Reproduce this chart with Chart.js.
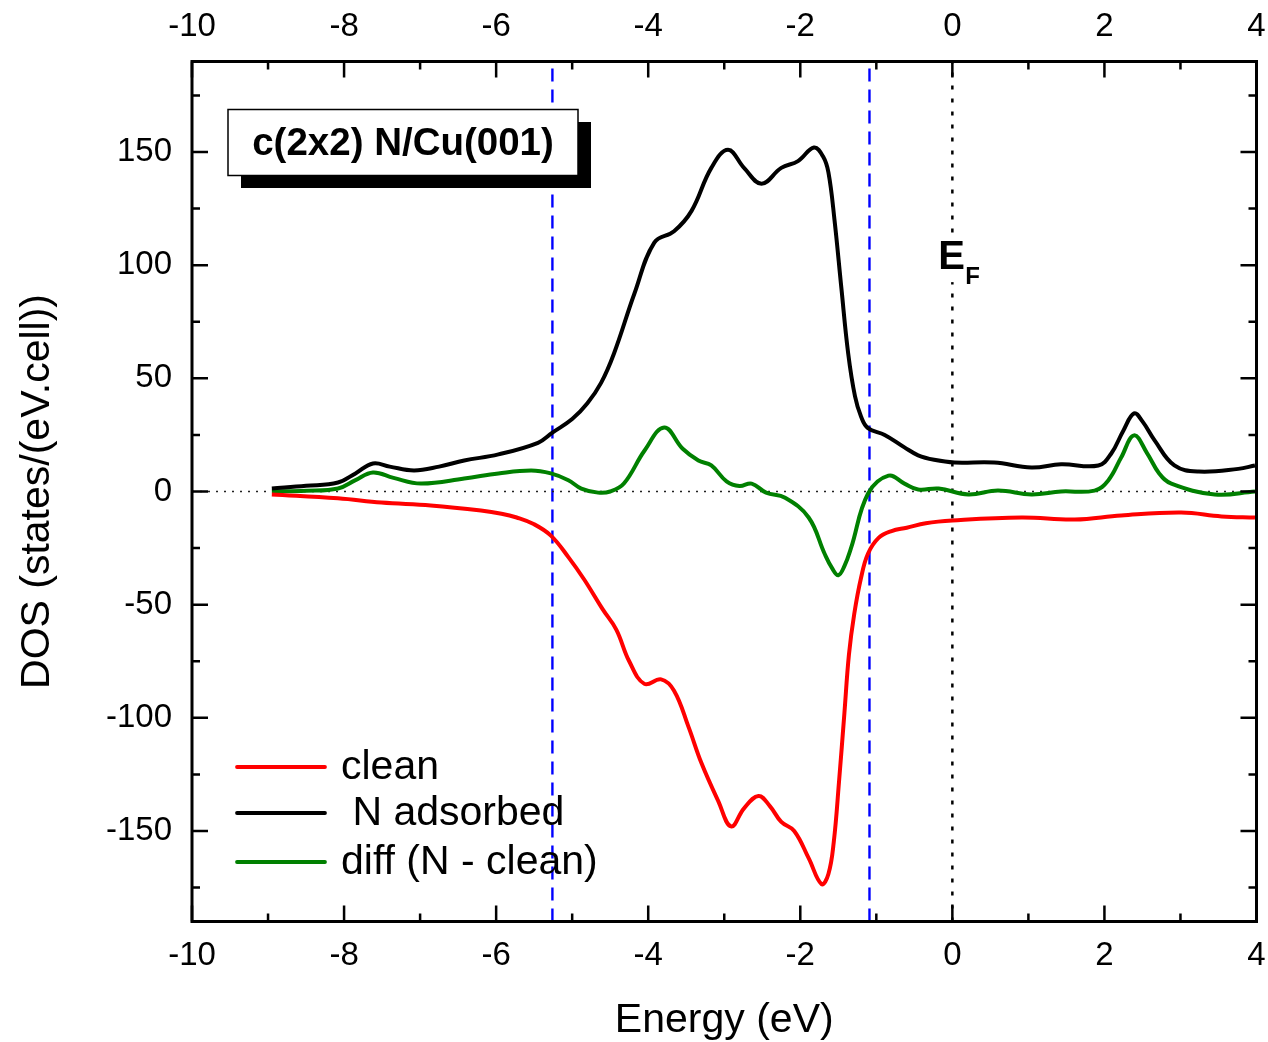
<!DOCTYPE html>
<html>
<head>
<meta charset="utf-8">
<script src="https://cdn.jsdelivr.net/npm/chart.js@4"></script>
<style>
  body { margin: 0; background: #fff; }
  #wrap { width: 1268px; height: 1042px; }
</style>
</head>
<body>
<div id="wrap"><canvas id="dos"></canvas></div>
<script>
// --- dados ---
const cleanE = [-8.95, -8.08, -7.51, -6.86, -6.2, -5.93, -5.73, -5.5, -5.28, -5.05, -4.84, -4.6, -4.42, -4.25, -4.05, -3.83, -3.66, -3.47, -3.3, -3.08, -2.91, -2.74, -2.55, -2.4, -2.25, -2.08, -1.89, -1.72, -1.63, -1.56, -1.49, -1.42, -1.36, -1.29, -1.2, -1.11, -0.97, -0.8, -0.6, -0.35, 0, 0.91, 1.61, 2.22, 3.01, 3.54, 3.98];
const cleanDOS = [-1.3, -3, -4.9, -6.2, -8.4, -9.8, -11.5, -14.5, -19.5, -29, -39, -52, -61, -75, -85, -83, -88, -104, -120, -136.7, -148, -140, -134.5, -139, -146, -150, -162, -173.5, -169, -155, -128, -98, -72, -54, -38, -27.5, -20.5, -17.5, -16, -14, -12.8, -11.5, -12.4, -10.6, -9.3, -11, -11.5];

const nadsE = [-8.95, -8.5, -8.08, -7.85, -7.62, -7.4, -7.08, -6.75, -6.42, -5.97, -5.45, -5.26, -5.0, -4.8, -4.62, -4.45, -4.18, -3.92, -3.66, -3.43, -3.17, -2.95, -2.74, -2.51, -2.25, -2.03, -1.82, -1.7, -1.63, -1.55, -1.46, -1.37, -1.28, -1.2, -1.11, -0.89, -0.63, -0.45, -0.24, 0.03, 0.55, 1.04, 1.43, 1.92, 2.09, 2.25, 2.39, 2.5, 2.66, 2.92, 3.24, 3.76, 3.98];
const nadsDOS = [1.3, 2.5, 4, 8, 12.4, 11, 9.3, 11, 13.7, 16.4, 21.5, 26, 32, 39, 48, 61, 87.6, 110, 115, 124, 143, 151, 143, 136, 143, 146, 152, 148, 141, 120, 90, 61, 42, 33, 28, 25, 19.5, 16, 14, 12.8, 12.8, 10.6, 12, 11.5, 16.8, 27, 34.5, 31, 22.6, 11.5, 8.8, 10, 11.5];

const diffE = [-8.95, -8.5, -8.08, -7.85, -7.62, -7.35, -6.99, -6.42, -5.97, -5.54, -5.28, -5.05, -4.88, -4.66, -4.5, -4.32, -4.05, -3.79, -3.55, -3.34, -3.17, -2.97, -2.8, -2.64, -2.45, -2.2, -1.89, -1.68, -1.58, -1.5, -1.42, -1.33, -1.11, -0.84, -0.63, -0.45, -0.18, 0.21, 0.6, 1.04, 1.43, 1.87, 2.05, 2.22, 2.39, 2.56, 2.72, 2.88, 3.45, 3.98];
const diffDOS = [0, 0.3, 1.3, 5, 8.4, 6, 3.5, 5.7, 8, 9.3, 8, 5, 1.3, -0.5, 0, 3.5, 18, 28.3, 19, 13.7, 11.5, 4.5, 2.4, 3.5, -0.5, -2.8, -11.5, -27.5, -34, -37, -33, -24.7, -1, 7, 3.5, 0.9, 1.3, -1.3, 0.4, -1.3, 0, 0.4, 4.9, 15, 24.8, 17, 8, 3.5, -1.3, 0];

const faixaE = [-5.26, -1.09];   // linhas azuis tracejadas
const xTicks = [-10, -8, -6, -4, -2, 0, 2, 4];
const yTicks = [-150, -100, -50, 0, 50, 100, 150];
const nomes = ['clean', ' N adsorbed', 'diff (N - clean)'];
const cores = ['#ff0000', '#000000', '#008000'];

const FONTE = "'Liberation Sans', Arial, sans-serif";

function pontos(xs, ys) {
    return xs.map((x, i) => ({ x: x, y: ys[i] }));
}

// linhas de referência
const refSets = [
    { data: [{ x: -10, y: 0 }, { x: 4, y: 0 }], borderColor: '#222', borderWidth: 1.5, borderDash: [2, 6] },
    { data: [{ x: 0, y: -190 }, { x: 0, y: 190 }], borderColor: '#000', borderWidth: 2.5, borderDash: [4, 9] },
    { data: [{ x: faixaE[0], y: -190 }, { x: faixaE[0], y: 190 }], borderColor: '#0000ff', borderWidth: 2.4, borderDash: [13, 8] },
    { data: [{ x: faixaE[1], y: -190 }, { x: faixaE[1], y: 190 }], borderColor: '#0000ff', borderWidth: 2.4, borderDash: [13, 8] }
].map(d => Object.assign(d, { pointRadius: 0, fill: false, tension: 0, order: 5 }));

const series = [pontos(cleanE, cleanDOS), pontos(nadsE, nadsDOS), pontos(diffE, diffDOS)].map((d, i) => ({
    label: nomes[i],
    data: d,
    borderColor: cores[i],
    borderWidth: 4,
    pointRadius: 0,
    fill: false,
    tension: 0.4,
    borderJoinStyle: 'round',
    order: 1
}));

// ticks para dentro, moldura, caixa do título, E_F e legenda
const enfeites = {
    id: 'enfeites',
    afterDatasetsDraw(chart) {
        const { ctx, chartArea: a, scales } = chart;
        const sx = scales.x, sy = scales.y;
        ctx.save();
        ctx.strokeStyle = '#000';
        ctx.lineWidth = 2.5;
        ctx.beginPath();
        const maior = 16, menor = 8;
        for (let v = -10; v <= 4; v += 1) {
            const px = sx.getPixelForValue(v);
            const len = (v % 2 === 0) ? maior : menor;
            ctx.moveTo(px, a.bottom); ctx.lineTo(px, a.bottom - len);
            ctx.moveTo(px, a.top); ctx.lineTo(px, a.top + len);
        }
        for (let v = -175; v <= 175; v += 25) {
            const py = sy.getPixelForValue(v);
            const len = (v % 50 === 0) ? maior : menor;
            ctx.moveTo(a.left, py); ctx.lineTo(a.left + len, py);
            ctx.moveTo(a.right, py); ctx.lineTo(a.right - len, py);
        }
        ctx.stroke();
        ctx.lineWidth = 3;
        ctx.strokeRect(a.left, a.top, a.right - a.left, a.bottom - a.top);

        // caixa do título com sombra
        const bx = a.left + 36, by = a.top + 48, bw = 350, bh = 66;
        ctx.fillStyle = '#000';
        ctx.fillRect(bx + 13, by + 12.5, bw, bh);
        ctx.fillStyle = '#fff';
        ctx.fillRect(bx, by, bw, bh);
        ctx.lineWidth = 1.5;
        ctx.strokeRect(bx, by, bw, bh);
        ctx.fillStyle = '#000';
        ctx.font = 'bold 38.5px ' + FONTE;
        ctx.textAlign = 'center';
        ctx.textBaseline = 'middle';
        ctx.fillText('c(2x2) N/Cu(001)', bx + bw / 2, by + 35);

        // rótulo E_F
        const ex = sx.getPixelForValue(0), ey = sy.getPixelForValue(104);
        ctx.fillStyle = '#fff';
        ctx.fillRect(ex - 14, ey - 22, 28, 48);
        ctx.fillStyle = '#000';
        ctx.textAlign = 'left';
        ctx.font = 'bold 40px ' + FONTE;
        ctx.fillText('E', ex - 14, ey + 2);
        ctx.font = 'bold 24px ' + FONTE;
        ctx.fillText('F', ex + 13, ey + 21);

        // legenda
        const lx = a.left + 45;
        const ly = [767, 813, 862];
        ctx.font = '41px ' + FONTE;
        series.forEach((s, i) => {
            ctx.strokeStyle = s.borderColor;
            ctx.lineWidth = 3.8;
            ctx.lineCap = 'round';
            ctx.beginPath();
            ctx.moveTo(lx, ly[i]); ctx.lineTo(lx + 88, ly[i]);
            ctx.stroke();
            ctx.fillStyle = '#000';
            ctx.fillText(s.label, lx + 104, ly[i] + 1);
        });
        ctx.restore();
    }
};

const fonteTick = { family: FONTE, size: 33 };
function semPadH(s, h) {
    s.height = h;
    s.paddingLeft = 0;
    s.paddingRight = 0;
}

new Chart(document.getElementById('dos'), {
    type: 'line',
    data: { datasets: series.concat(refSets) },
    options: {
        responsive: true,
        maintainAspectRatio: false,
        animation: false,
        layout: { padding: { right: 11.5 } },
        plugins: { legend: { display: false }, tooltip: { enabled: false } },
        scales: {
            x: {
                type: 'linear', position: 'bottom', min: -10, max: 4,
                afterBuildTicks: s => { s.ticks = xTicks.map(v => ({ value: v })); },
                afterFit: s => semPadH(s, 120.5),
                grid: { display: false, drawTicks: false },
                border: { display: false },
                ticks: { color: '#000', font: fonteTick, padding: 15, maxRotation: 0 },
                title: { display: true, text: 'Energy (eV)', color: '#000', font: { family: FONTE, size: 41 }, padding: { top: 0, bottom: -3 } }
            },
            x2: {
                type: 'linear', position: 'top', min: -10, max: 4,
                afterBuildTicks: s => { s.ticks = xTicks.map(v => ({ value: v })); },
                afterFit: s => semPadH(s, 61.5),
                grid: { display: false, drawTicks: false },
                border: { display: false },
                ticks: { color: '#000', font: fonteTick, padding: 15, maxRotation: 0 }
            },
            y: {
                type: 'linear', min: -190, max: 190,
                afterBuildTicks: s => { s.ticks = yTicks.map(v => ({ value: v })); },
                afterFit: s => { s.width = 192; s.paddingTop = 0; s.paddingBottom = 0; },
                grid: { display: false, drawTicks: false },
                border: { display: false },
                ticks: { color: '#000', font: fonteTick, padding: 20 },
                title: { display: true, text: 'DOS (states/(eV.cell))', color: '#000', font: { family: FONTE, size: 41 }, padding: { top: 13, bottom: 0 } }
            }
        }
    },
    plugins: [enfeites]
});
</script>
</body>
</html>
